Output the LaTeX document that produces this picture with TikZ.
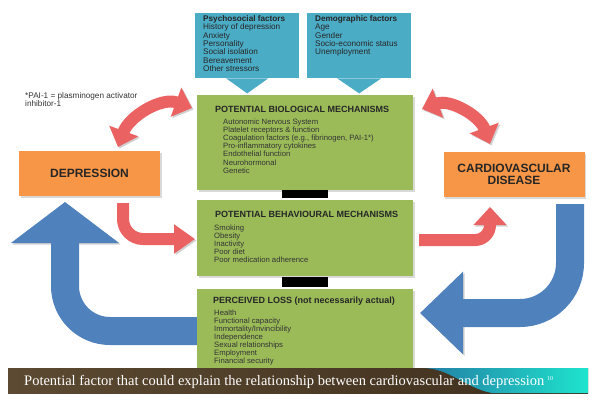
\documentclass[tikz,border=0pt]{standalone}
\usepackage{fontspec}
\setmainfont{Liberation Serif}
\setsansfont{Liberation Sans}
\usetikzlibrary{arrows.meta,positioning,shadows}
\definecolor{oliva}{RGB}{155,187,89}
\definecolor{celeste}{RGB}{75,172,198}
\definecolor{naranja}{RGB}{247,150,70}
\definecolor{rojo}{RGB}{234,98,98}
\definecolor{azul}{RGB}{79,129,189}
\definecolor{cafe}{RGB}{92,74,50}
\definecolor{cafeoscuro}{RGB}{62,46,28}
\definecolor{azulverde}{RGB}{35,125,165}
\definecolor{turquesa}{RGB}{30,228,205}
\tikzset{
  sombra/.style={drop shadow={shadow xshift=1.5pt,shadow yshift=-1.5pt,opacity=0.3}},
  caja/.style={fill=oliva,anchor=north west,minimum width=216pt,inner sep=0pt,sombra},
  recuadro/.style={fill=naranja,minimum width=141pt,minimum height=45pt,align=center,
    font=\sffamily\bfseries\fontsize{12}{12.5}\selectfont,text=black!85,sombra},
  globo/.style={fill=celeste,anchor=north west,minimum width=104pt,minimum height=65pt,inner sep=0pt},
  titulo/.style={font=\sffamily\bfseries\fontsize{9}{9}\selectfont,inner sep=0pt,text=black!85},
  lista/.style={font=\sffamily\fontsize{7.7}{8.1}\selectfont,align=left,inner sep=0pt,text=black!80},
  factores/.style={font=\sffamily\fontsize{8.2}{8.3}\selectfont,align=left,inner sep=0pt,text=black!85},
  reflejo/.style={preaction={draw=black!18,transform canvas={shift={(1.5pt,-1.5pt)}}}},
  flecharoja/.style={draw=rojo,line width=12pt,reflejo},
  flechaazul/.style={draw=azul,line width=28pt,reflejo},
}

\begin{document}
\begin{tikzpicture}[x=1pt,y=1pt]
\useasboundingbox (0,0) rectangle (596,400);

% globos de factores
\node[globo] (psico) at (195,387) {};
\fill[celeste] ([xshift=-21pt]psico.south) -- ([yshift=-15pt]psico.south) -- ([xshift=21pt]psico.south) -- cycle;
\node[factores,below right=2.5pt and 8pt of psico.north west] (psicotexto)
{\textbf{Psychosocial factors}\\History of depression\\Anxiety\\Personality\\Social isolation\\Bereavement\\Other stressors};
\node[globo] (demo) at (307,387) {};
\fill[celeste] ([xshift=-22pt]demo.south) -- ([yshift=-15pt]demo.south) -- ([xshift=22pt]demo.south) -- cycle;
\node[factores,below right=2.5pt and 8pt of demo.north west] (demotexto)
{\textbf{Demographic factors}\\Age\\Gender\\Socio-economic status\\Unemployment};

% flechas
\draw[flecharoja,{Triangle[width=30pt,length=17pt]}-{Triangle[width=30pt,length=17pt]}]
  (118,253) to[out=70,in=160] (192,292);
\draw[flecharoja,{Triangle[width=30pt,length=17pt]}-{Triangle[width=30pt,length=17pt]}]
  (422,291) to[out=20,in=110] (490,256);
\draw[flecharoja,-{Triangle[width=28pt,length=21pt]},rounded corners=20pt]
  (123,197) -- (123,161) -- (195,161);
\draw[flecharoja,-{Triangle[width=32pt,length=18pt]},rounded corners=15pt]
  (419,160) -- (490,160) -- (490,193);
\draw[flechaazul,-{Triangle[width=106pt,length=41pt]},rounded corners=45pt]
  (198,69) -- (65,69) -- (65,198);
\draw[flechaazul,-{Triangle[width=80pt,length=43pt]},rounded corners=50pt]
  (570,196) -- (570,87) -- (420,87);

% cajas de mecanismos
\node[caja,minimum height=95pt] (bio) at (197,305) {};
\node[titulo,below right=11pt and 18pt of bio.north west] (biotitulo) {POTENTIAL BIOLOGICAL MECHANISMS};
\node[lista,below right=6pt and 8pt of biotitulo.south west] (biolista)
{Autonomic Nervous System\\Platelet receptors \& function\\Coagulation factors (e.g., fibrinogen, PAI-1*)\\Pro-inflammatory cytokines\\Endothelial function\\Neurohormonal\\Genetic};
\fill[black] (282,210) rectangle (328,202);

\node[caja,minimum height=76pt] (conducta) at (197,200) {};
\node[titulo,below right=11.5pt and 18pt of conducta.north west] (conductatitulo) {POTENTIAL BEHAVIOURAL MECHANISMS};
\node[lista,below right=6pt and -1pt of conductatitulo.south west] (conductalista)
{Smoking\\Obesity\\Inactivity\\Poor diet\\Poor medication adherence};
\fill[black] (282,123) rectangle (328,113);

\node[caja,minimum height=83pt] (perdida) at (197,111) {};
\node[titulo,below right=7.5pt and 16pt of perdida.north west] (perdidatitulo) {PERCEIVED LOSS (not necessarily actual)};
\node[lista,below right=4pt and 1pt of perdidatitulo.south west] (perdidalista)
{Health\\Functional capacity\\Immortality/Invincibility\\Independence\\Sexual relationships\\Employment\\Financial security};

% recuadros
\node[recuadro] (depresion) at (89.5,226.5) {DEPRESSION};
\node[recuadro] (cardio) at (514,225.5) {CARDIOVASCULAR\\DISEASE};

\node[lista,anchor=north west,font=\sffamily\fontsize{8.2}{8.3}\selectfont] (nota) at (25,308)
{*PAI-1 = plasminogen activator\\inhibitor-1};

% pie
\shade[left color=cafe,right color=cafeoscuro] (8,7) rectangle (588,32);
\shade[left color=azulverde,right color=turquesa]
  (422,32) .. controls (450,32) and (465,12) .. (492,7) -- (588,7) -- (588,32) -- cycle;
\node[anchor=base west,inner sep=0pt,text=white,font=\fontsize{14.5}{15}\selectfont] (pie) at (24,15)
{Potential factor that could explain the relationship between cardiovascular and depression};
\node[anchor=base west,inner sep=0pt,text=white,font=\fontsize{6}{6}\selectfont] (pagina) at (547,20) {10};
\end{tikzpicture}
\end{document}
